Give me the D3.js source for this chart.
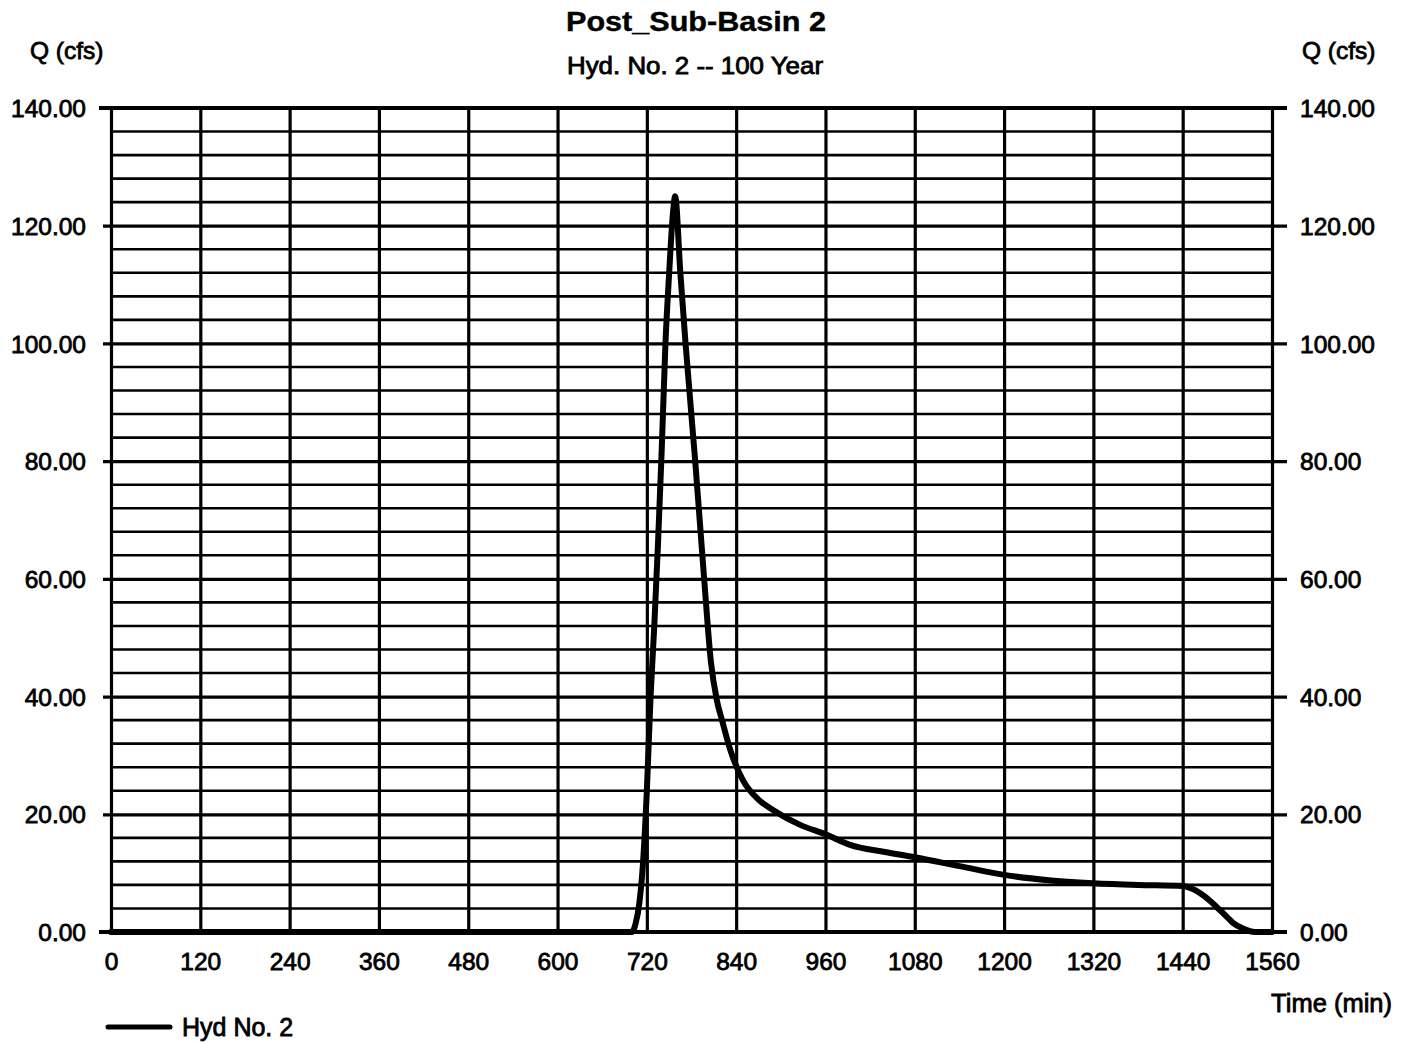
<!DOCTYPE html>
<html>
<head>
<meta charset="utf-8">
<script src="https://cdn.jsdelivr.net/npm/d3@7/dist/d3.min.js"></script>
<style>
  html, body { margin: 0; padding: 0; background: #fff; }
  svg text { font-family: "Liberation Sans", Arial, sans-serif; fill: #000; }
</style>
</head>
<body>
<svg id="chart" width="1412" height="1042"></svg>
<script>
// ---- data ----
const chartTitle = "Post_Sub-Basin 2";
const chartSubtitle = "Hyd. No. 2 -- 100 Year";
const yAxisLabel = "Q (cfs)";
const xAxisLabel = "Time (min)";
const seriesName = "Hyd No. 2";
const xTicks = [0, 120, 240, 360, 480, 600, 720, 840, 960, 1080, 1200, 1320, 1440, 1560];
const yTicks = [0, 20, 40, 60, 80, 100, 120, 140];
const yMinorStep = 4;
const timeMin = [0, 300, 600, 700, 705, 710, 715, 720, 725, 730, 735, 740, 745, 750, 755, 758,
  765, 772, 785, 797, 806, 814, 821, 832, 849, 870, 890, 926, 960, 993,
  1040, 1080, 1140, 1200, 1260, 1320, 1380, 1440, 1450, 1470, 1486, 1500, 1508, 1521, 1537, 1560];
const flowCfs = [0, 0, 0, 0, 1.5, 5, 12, 24, 40, 52, 66, 82, 100, 112, 122, 125,
  112, 100, 80, 60, 46, 39.4, 36, 31, 25.8, 22.5, 20.7, 18.2, 16.6, 14.8,
  13.6, 12.7, 11.2, 9.7, 8.8, 8.3, 8.0, 7.8, 7.5, 6.0, 4.2, 2.5, 1.5, 0.6, 0, 0];

// ---- layout ----
const svg = d3.select("#chart");
const L = 111, R = 1272, T = 108, B = 932;
const x = d3.scaleLinear().domain([0, 1560]).range([L, R]);
const y = d3.scaleLinear().domain([0, 140]).range([B, T]);
const tickFont = 24.5;
const textStroke = 0.8;

// minor horizontal grid
const minor = d3.range(0, 140 + 0.001, yMinorStep).filter(v => v % 20 !== 0);
svg.append("g").selectAll("line").data(minor).join("line")
  .attr("x1", L).attr("x2", R)
  .attr("y1", d => y(d)).attr("y2", d => y(d))
  .attr("stroke", "#000").attr("stroke-width", 2.6);

// major horizontal grid with outward ticks
const leftAxis = d3.axisLeft(y).tickValues(yTicks).tickSize(-(R - L)).tickSizeOuter(0)
  .tickPadding(25).tickFormat(d3.format(".2f"));
const gL = svg.append("g").attr("transform", `translate(${L},0)`).call(leftAxis);
gL.select(".domain").remove();
gL.selectAll(".tick line").attr("stroke", "#000").attr("stroke-width", 3.2).attr("x2", R - L + 15).attr("x1", -8);
gL.selectAll(".tick text").attr("font-size", tickFont).attr("dy", "0.35em")
  .attr("stroke", "#000").attr("stroke-width", textStroke);

const rightAxis = d3.axisRight(y).tickValues(yTicks).tickSize(0).tickPadding(28)
  .tickFormat(d3.format(".2f"));
const gR = svg.append("g").attr("transform", `translate(${R},0)`).call(rightAxis);
gR.select(".domain").remove();
gR.selectAll(".tick text").attr("font-size", tickFont).attr("dy", "0.35em")
  .attr("stroke", "#000").attr("stroke-width", textStroke);

// vertical grid via bottom axis
const bottomAxis = d3.axisBottom(x).tickValues(xTicks).tickSize(-(B - T)).tickSizeOuter(0)
  .tickPadding(16).tickFormat(d3.format("d"));
const gB = svg.append("g").attr("transform", `translate(0,${B})`).call(bottomAxis);
gB.select(".domain").remove();
gB.selectAll(".tick line").attr("stroke", "#000").attr("stroke-width", 3.2);
gB.selectAll(".tick text").attr("font-size", tickFont).attr("dy", "0.9em")
  .attr("stroke", "#000").attr("stroke-width", textStroke);

// heavier frame lines at 0 and 140
svg.append("g").selectAll("line").data([0, 140]).join("line")
  .attr("x1", L - 12).attr("x2", R + 15)
  .attr("y1", d => y(d)).attr("y2", d => y(d))
  .attr("stroke", "#000").attr("stroke-width", 4);

// hydrograph
const line = d3.line().x((d, i) => x(timeMin[i])).y(d => y(d)).curve(d3.curveMonotoneX);
svg.append("path").datum(flowCfs)
  .attr("d", line).attr("fill", "none").attr("stroke", "#000")
  .attr("stroke-width", 6).attr("stroke-linejoin", "round").attr("stroke-linecap", "round");

// titles
svg.append("text").attr("x", 696).attr("y", 31).attr("text-anchor", "middle")
  .attr("font-size", 27).attr("font-weight", "bold").attr("textLength", 260)
  .attr("lengthAdjust", "spacingAndGlyphs").attr("stroke", "#000").attr("stroke-width", 0.4)
  .text(chartTitle);
svg.append("text").attr("x", 695).attr("y", 74).attr("text-anchor", "middle")
  .attr("font-size", 23).attr("textLength", 256).attr("lengthAdjust", "spacingAndGlyphs")
  .attr("stroke", "#000").attr("stroke-width", textStroke).text(chartSubtitle);

svg.append("text").attr("x", 30).attr("y", 59).attr("font-size", 24.5)
  .attr("stroke", "#000").attr("stroke-width", textStroke).text(yAxisLabel);
svg.append("text").attr("x", 1302).attr("y", 59).attr("font-size", 24.5)
  .attr("stroke", "#000").attr("stroke-width", textStroke).text(yAxisLabel);
svg.append("text").attr("x", 1392).attr("y", 1012).attr("text-anchor", "end").attr("font-size", 25.5)
  .attr("stroke", "#000").attr("stroke-width", textStroke).text(xAxisLabel);

// legend
const lg = svg.append("g").attr("transform", "translate(108,1027)");
lg.append("line").attr("x1", 0).attr("x2", 62).attr("y1", 0).attr("y2", 0)
  .attr("stroke", "#000").attr("stroke-width", 5).attr("stroke-linecap", "round");
lg.append("text").attr("x", 74).attr("y", 9).attr("font-size", 25)
  .attr("stroke", "#000").attr("stroke-width", textStroke).text(seriesName);
</script>
</body>
</html>
